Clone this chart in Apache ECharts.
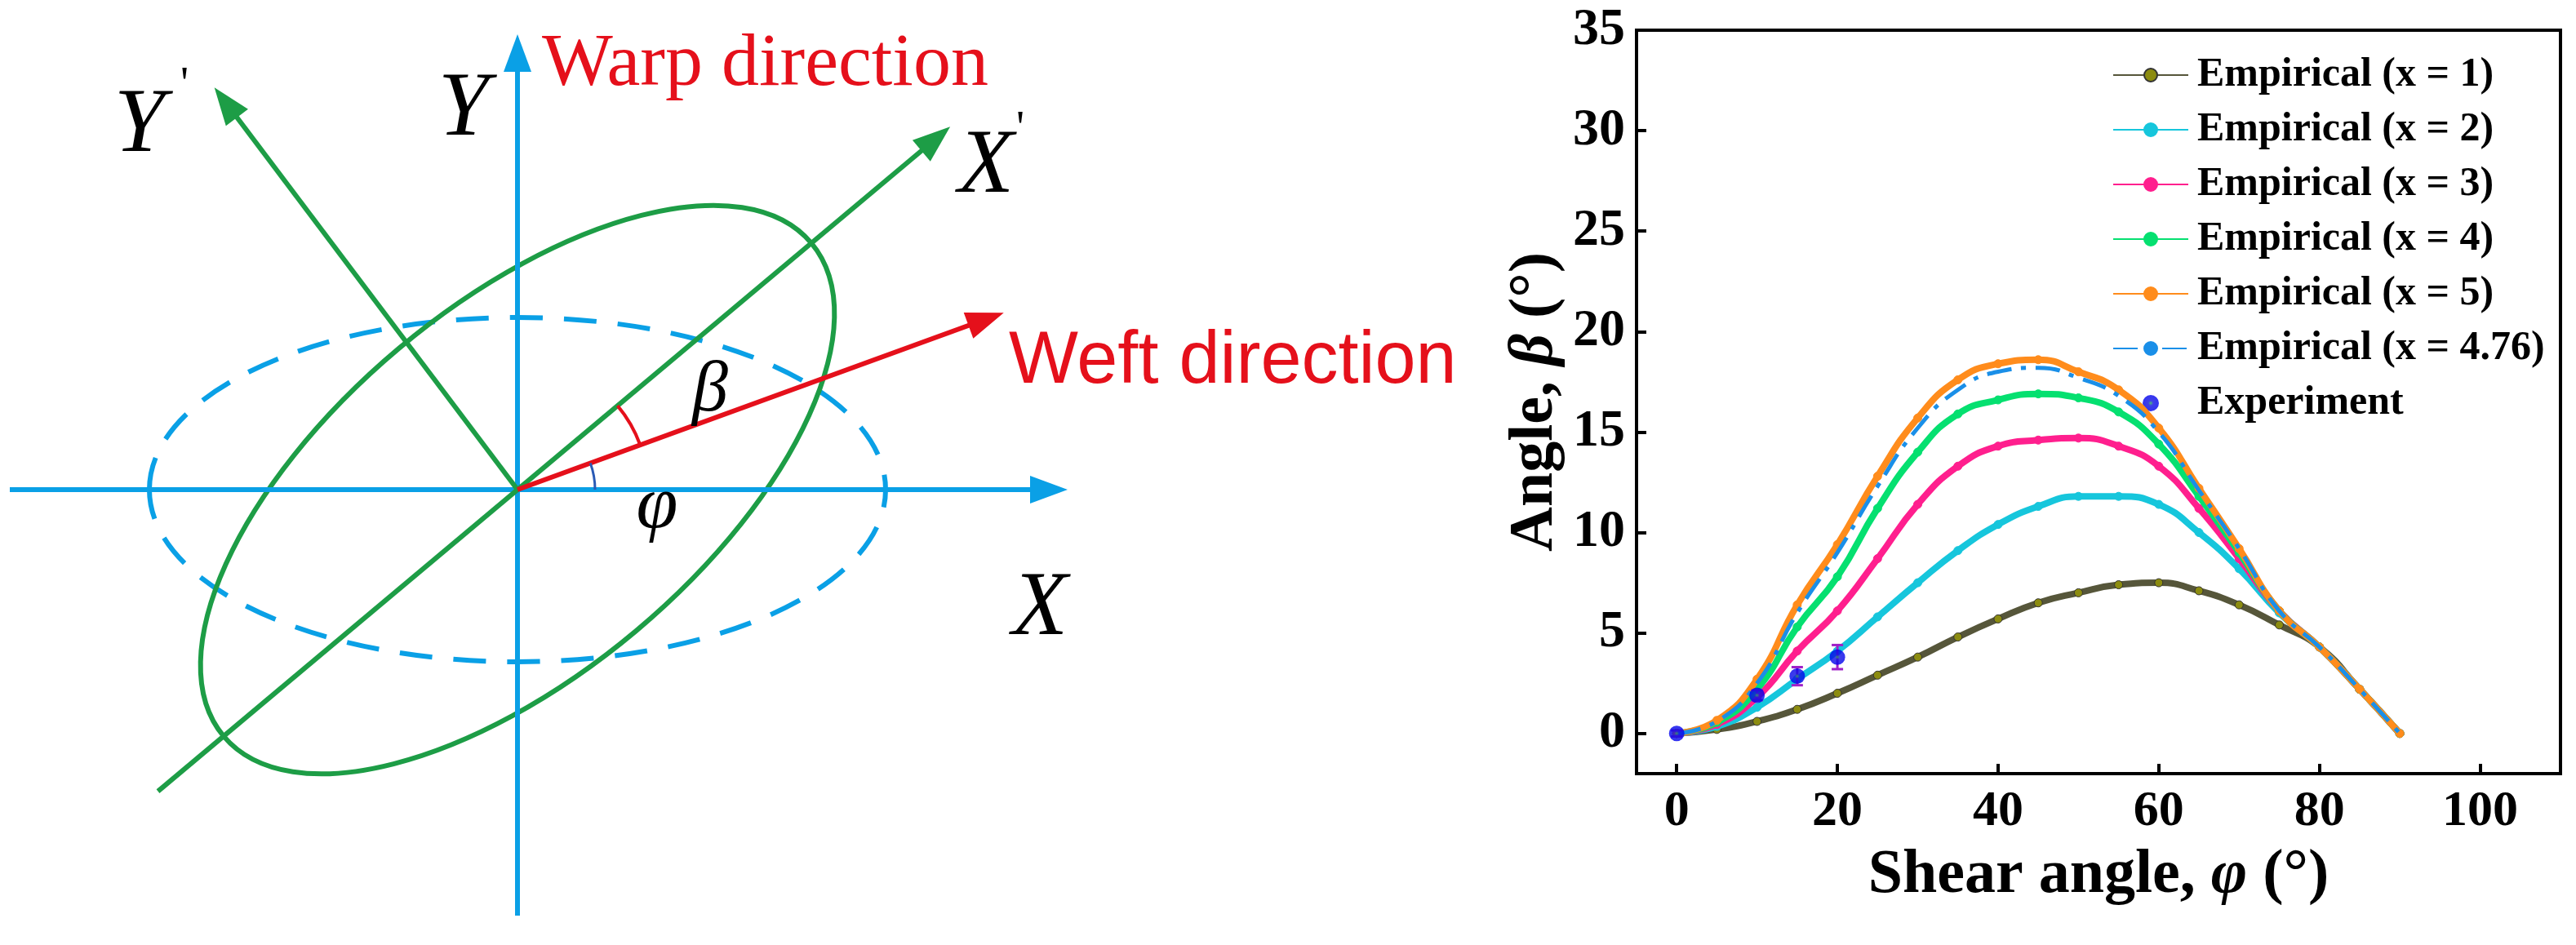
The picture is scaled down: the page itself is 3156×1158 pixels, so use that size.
<!DOCTYPE html>
<html>
<head>
<meta charset="utf-8">
<script src="https://cdn.jsdelivr.net/npm/echarts@6/dist/echarts.min.js"></script>
<style>
html,body{margin:0;padding:0;background:#fff;}
#main{width:3156px;height:1158px;}
</style>
</head>
<body>
<div id="main"></div>
<script>
// ---------- data ----------
const shearAngle = [0,5,10,15,20,25,30,35,40,45,50,55,60,65,70,75,80,85,90];
const empX1   = [0,0.2,0.6,1.2,2.0,2.9,3.8,4.8,5.7,6.5,7.0,7.4,7.5,7.1,6.4,5.4,4.3,2.2,0];
const empX2   = [0,0.35,1.3,2.7,4.1,5.8,7.5,9.1,10.4,11.3,11.8,11.8,11.4,10.0,8.2,6.0,4.3,2.2,0];
const empX3   = [0,0.45,1.8,4.1,6.1,8.7,11.4,13.3,14.3,14.6,14.7,14.3,13.3,11.2,8.7,6.1,4.3,2.2,0];
const empX4   = [0,0.55,2.2,5.3,7.8,11.2,14.0,15.9,16.6,16.9,16.7,16.0,14.4,11.8,9.0,6.1,4.3,2.2,0];
const empX5   = [0,0.65,2.7,6.4,9.4,12.8,15.7,17.6,18.4,18.6,18.0,17.1,15.2,12.2,9.2,6.1,4.3,2.2,0];
const empX476 = [0,0.6,2.5,6.0,9.0,12.3,15.2,17.1,18.0,18.2,17.7,16.8,15.0,12.1,9.2,6.1,4.3,2.2,0];
const expX   = [0,10,15,20];
const expY   = [0,1.9,2.85,3.8];
const expErr = [0.15,0.25,0.45,0.6];
const xTicks = [0,20,40,60,80,100];
const yTicks = [0,5,10,15,20,25,30,35];
const seriesNames = ['Empirical (x = 1)','Empirical (x = 2)','Empirical (x = 3)','Empirical (x = 4)','Empirical (x = 5)','Empirical (x = 4.76)','Experiment'];

// ---------- diagram parameters ----------
const phiAngle = 20;   // weft direction angle (deg)
const betaAngle = 20;  // extra rotation of principal axis X' (deg)

const SERIF = '"Liberation Serif","Times New Roman",serif';
const SANS = '"Liberation Sans",Arial,sans-serif';
const BLUE = '#0aa0e6', GREEN = '#1d9d46', RED = '#e5101b';

function pairs(xs, ys){ return xs.map((x,i)=>[x, ys[i]]); }

// ---------- diagram (illustration) ----------
const O = [634, 600];
const rad = d => d*Math.PI/180;
function pt(angleDeg, len){ return [O[0] + len*Math.cos(rad(angleDeg)), O[1] - len*Math.sin(rad(angleDeg))]; }
function arrowHead(tip, angleDeg, color){
  const L = 46, W = 17, a = rad(angleDeg);
  const bx = tip[0] - L*Math.cos(a), by = tip[1] + L*Math.sin(a);
  const nx = Math.sin(a), ny = Math.cos(a);
  return {type:'polygon', shape:{points:[tip,[bx+W*nx, by+W*ny],[bx-W*nx, by-W*ny]]}, style:{fill:color}, z:20};
}
function seg(p1, p2, color, w, dash){
  return {type:'line', shape:{x1:p1[0],y1:p1[1],x2:p2[0],y2:p2[1]}, style:{stroke:color, lineWidth:w, lineDash:dash||null, lineCap:'butt'}, z:10};
}
function txt(x, y, text, size, opts){
  return {type:'text', x:x, y:y, z:30, style:Object.assign({text:text, fontSize:size, fontFamily:SERIF, fill:'#000', align:'center', verticalAlign:'middle'}, opts||{})};
}
const xpAngle = phiAngle + betaAngle;
const diagram = [
  {type:'ellipse', shape:{cx:O[0], cy:O[1], rx:451, ry:211}, style:{fill:'none', stroke:BLUE, lineWidth:6, lineDash:[40,26]}, z:5},
  {type:'ellipse', x:O[0], y:O[1], rotation:rad(xpAngle), shape:{cx:0, cy:0, rx:470, ry:226}, style:{fill:'none', stroke:GREEN, lineWidth:6}, z:6},
  seg([12, O[1]], [1265, O[1]], BLUE, 6),
  arrowHead([1308, O[1]], 0, BLUE),
  seg([O[0], 1122], [O[0], 84], BLUE, 6),
  arrowHead([O[0], 42], 90, BLUE),
  seg(pt(xpAngle+180, 575), pt(xpAngle, 650), GREEN, 6),
  arrowHead(pt(xpAngle, 692), xpAngle, GREEN),
  seg(O, pt(127, 575), GREEN, 6),
  arrowHead(pt(127, 617), 127, GREEN),
  seg(O, pt(phiAngle, 592), RED, 6),
  arrowHead(pt(phiAngle, 634), phiAngle, RED),
  {type:'arc', shape:{cx:O[0], cy:O[1], r:160, startAngle:-rad(xpAngle), endAngle:-rad(phiAngle), clockwise:true}, style:{stroke:RED, lineWidth:4, fill:'none'}, z:12},
  {type:'arc', shape:{cx:O[0], cy:O[1], r:95, startAngle:-rad(phiAngle), endAngle:0, clockwise:true}, style:{stroke:'#2a5ab5', lineWidth:3, fill:'none'}, z:12},
  txt(171, 156, 'Y', 112, {fontStyle:'italic'}),
  txt(226, 106, "'", 56),
  txt(568, 136, 'Y', 112, {fontStyle:'italic'}),
  txt(1208, 206, 'X', 112, {fontStyle:'italic'}),
  txt(1250, 160, "'", 56),
  txt(1274, 748, 'X', 112, {fontStyle:'italic'}),
  txt(870, 480, 'β', 88, {fontStyle:'italic'}),
  txt(805, 622, 'φ', 92, {fontStyle:'italic'}),
  txt(664, 80, 'Warp direction', 92, {fill:RED, align:'left'}),
  txt(1236, 444, 'Weft direction', 90, {fill:RED, align:'left', fontFamily:SANS})
];

// ---------- chart ----------
const chart = echarts.init(document.getElementById('main'), null, {renderer:'canvas'});
const lineColors = ['#56563a','#16c6dc','#ff1f8e','#05e070','#ff8c1c','#1a8fe8'];
const empData = [empX1, empX2, empX3, empX4, empX5, empX476];

const lineSeries = empData.map((vals, i) => {
  const dashed = i === 5;
  return {
    name: seriesNames[i], type:'line', smooth:0.5,
    data: pairs(shearAngle, vals),
    showSymbol: !dashed, symbol:'circle', symbolSize: dashed ? 0 : 10,
    lineStyle:{color:lineColors[i], width: dashed ? 5 : 8, type: dashed ? [30,12,6,12] : 'solid'},
    itemStyle:{color: i===0 ? '#8c8c10' : lineColors[i], borderColor: i===0 ? '#333' : lineColors[i], borderWidth:1},
    emphasis:{disabled:true}, z: 2+i
  };
});

const errData = expX.map((x,i)=>[x, expY[i]-expErr[i], expY[i]+expErr[i]]);

const titleStyle = {fontFamily:SERIF, fontWeight:'bold', fontSize:76, color:'#000', lineHeight:84, verticalAlign:'middle',
  rich:{i:{fontFamily:SERIF, fontWeight:'bold', fontStyle:'italic', fontSize:76, color:'#000', lineHeight:84, verticalAlign:'middle'},
        n:{fontFamily:SERIF, fontWeight:'bold', fontSize:76, color:'#000', lineHeight:84, verticalAlign:'middle'}}};

const option = {
  animation:false,
  backgroundColor:'#fff',
  graphic: diagram,
  grid:{left:2005, right:19, top:37, bottom:210, show:true, borderColor:'#000', borderWidth:4, backgroundColor:'transparent'},
  legend:{
    data: seriesNames, orient:'vertical', left:2583, top:62, itemWidth:92, itemHeight:20, itemGap:17,
    textStyle:{fontFamily:SERIF, fontWeight:'bold', fontSize:50, color:'#000', padding:[0,0,0,6]}
  },
  xAxis:{
    type:'value', min:-5, max:110,
    axisLine:{show:true, onZero:false, lineStyle:{color:'#000', width:4}},
    axisTick:{show:true, inside:true, length:12, customValues:xTicks, lineStyle:{color:'#000', width:4}},
    axisLabel:{customValues:xTicks, fontFamily:SERIF, fontWeight:'bold', fontSize:62, color:'#000', margin:16},
    splitLine:{show:false},
    name:'{n|Shear angle, }{i|φ}{n| (°)}', nameLocation:'middle', nameGap:92,
    nameTextStyle:titleStyle
  },
  yAxis:{
    type:'value', min:-2, max:35,
    axisLine:{show:true, onZero:false, lineStyle:{color:'#000', width:4}},
    axisTick:{show:true, inside:true, length:12, customValues:yTicks, lineStyle:{color:'#000', width:4}},
    axisLabel:{customValues:yTicks, fontFamily:SERIF, fontWeight:'bold', fontSize:64, color:'#000', margin:14},
    splitLine:{show:false},
    name:'{n|Angle, }{i|β}{n| (°)}', nameLocation:'middle', nameGap:100,
    nameTextStyle:titleStyle
  },
  series: lineSeries.concat([
    {
      name:'errorbars', type:'custom', data:errData, z:20,
      renderItem:function(params, api){
        const x = api.value(0);
        const p1 = api.coord([x, api.value(1)]), p2 = api.coord([x, api.value(2)]);
        const c = '#a020c8', w = 7;
        return {type:'group', children:[
          {type:'line', shape:{x1:p1[0],y1:p1[1],x2:p2[0],y2:p2[1]}, style:{stroke:c, lineWidth:3}},
          {type:'line', shape:{x1:p1[0]-w,y1:p1[1],x2:p1[0]+w,y2:p1[1]}, style:{stroke:c, lineWidth:3}},
          {type:'line', shape:{x1:p2[0]-w,y1:p2[1],x2:p2[0]+w,y2:p2[1]}, style:{stroke:c, lineWidth:3}}
        ]};
      }
    },
    {
      name: seriesNames[6], type:'scatter', data: pairs(expX, expY), symbol:'circle', symbolSize:19, z:25,
      itemStyle:{color:{type:'radial', x:0.5, y:0.5, r:0.5, colorStops:[{offset:0,color:'#22aa55'},{offset:0.3,color:'#1010e0'},{offset:1,color:'#0000ee'}]}},
      emphasis:{disabled:true}
    }
  ])
};
chart.setOption(option);
</script>
</body>
</html>
